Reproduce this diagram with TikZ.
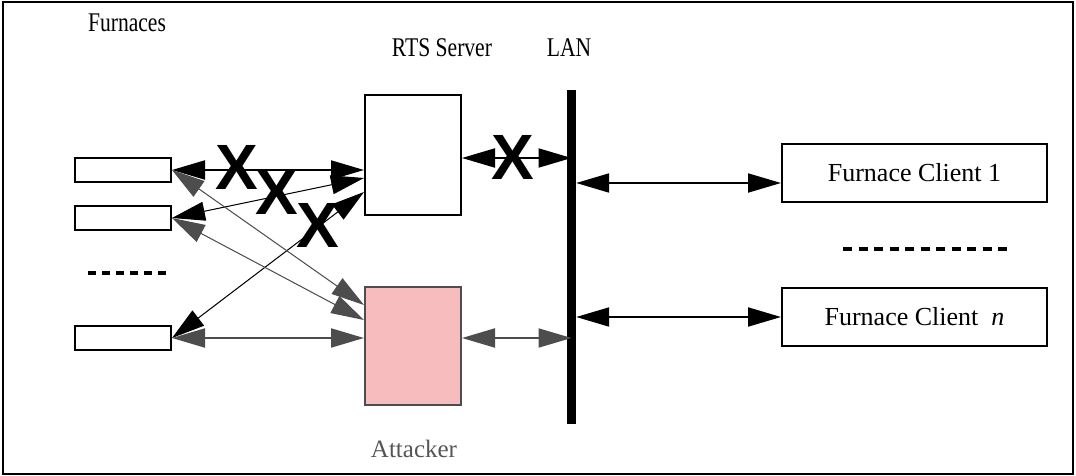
\documentclass[tikz,border=0pt]{standalone}
\usepackage{fontspec}
\setmainfont{Liberation Serif}
\newfontfamily\xfont{Liberation Sans}
\usetikzlibrary{arrows.meta}
\definecolor{dg}{RGB}{77,77,77}
\definecolor{txtgray}{RGB}{85,85,85}
\definecolor{pinkfill}{RGB}{247,188,190}
\begin{document}
\begin{tikzpicture}[x=1pt,y=-1pt,
  box/.style={draw, line width=2pt, inner sep=0pt, fill=white},
  lbl/.style={inner sep=0pt, anchor=base, font=\fontsize{25}{30}\selectfont},
  toplbl/.style={inner sep=0pt, anchor=base, font=\fontsize{27}{30}\selectfont},
  xmark/.style={inner sep=0pt, font=\xfont\bfseries\fontsize{64}{64}\selectfont},
  arr/.style={{Triangle[length=33pt,width=19pt]}-{Triangle[length=33pt,width=19pt]}},
  barr/.style={arr, draw=black, fill=black, line width=2pt},
  bthin/.style={arr, draw=black, fill=black, line width=1pt},
  garr/.style={arr, draw=dg, fill=dg, line width=2pt},
  gthin/.style={arr, draw=dg, fill=dg, line width=1pt},
  dots/.style={line width=4.5pt}]
\useasboundingbox (0,0) rectangle (1076,476);
\draw[line width=2pt] (3,2) rectangle (1073,474);

% labels
\node[toplbl] (lf) at (127,32) {\scalebox{0.8}[1]{Furnaces}};
\node[toplbl] (lr) at (442,57) {\scalebox{0.8}[1]{RTS Server}};
\node[toplbl] (ll) at (569,57) {\scalebox{0.8}[1]{LAN}};
\node[lbl, text=txtgray] (la) at (414,457) {Attacker};

% furnaces
\node[box, minimum width=96pt, minimum height=24pt] (f1) at (123,170) {};
\node[box, minimum width=96pt, minimum height=24pt] (f2) at (123,218) {};
\node[box, minimum width=96pt, minimum height=24pt] (f4) at (123,338) {};
\draw[dots, dash pattern=on 8pt off 6pt] (88,273) -- (166,273);

% server, attacker, LAN
\node[box, minimum width=96pt, minimum height=120pt] (rts) at (413,155) {};
\node[box, draw=dg, fill=pinkfill, minimum width=96pt, minimum height=118pt] (att) at (413,346) {};
\node[fill=black, inner sep=0pt, minimum width=9pt, minimum height=334pt] (lan) at (571.5,257) {};

% clients
\node[box, minimum width=265pt, minimum height=58pt, font=\fontsize{26}{30}\selectfont] (c1) at (914.5,173) {Furnace Client 1};
\node[box, minimum width=265pt, minimum height=58pt, font=\fontsize{26}{30}\selectfont] (cn) at (914.5,317) {Furnace Client\ \ \textit{n}};
\draw[dots, dash pattern=on 9pt off 6.5pt] (843,249) -- (1007,249);

% furnace <-> server (black)
\draw[barr] (f1.east) -- (f1.east -| rts.west);
\draw[bthin] (f2.east) -- ([yshift=-23pt]rts.west);
\draw[bthin] (f4.east) -- ([yshift=-37pt]rts.west);

% furnace <-> attacker (gray)
\draw[gthin] (f1.east) -- ([yshift=41pt]att.west);
\draw[gthin] (f2.east) -- ([yshift=26pt]att.west);
\draw[garr] (f4.east) -- (f4.east -| att.west);

% server / attacker <-> LAN
\coordinate (r8) at ([yshift=-3pt]rts.east);
\draw[barr] (r8) -- (r8 -| lan.center);
\coordinate (a7) at ([yshift=8pt]att.east);
\draw[garr] (a7) -- (a7 -| lan.center);

% LAN <-> clients
\coordinate (c1w) at ([yshift=-10pt]c1.west);
\draw[barr] (c1w -| lan.east) -- (c1w);
\draw[barr] (cn.west -| lan.east) -- (cn.west);

% X marks
\node[xmark] (x1) at (237,167) {X};
\node[xmark] (x2) at (277,192) {X};
\node[xmark] (x3) at (318,225) {X};
\node[xmark] (x4) at (513,157) {X};
\end{tikzpicture}
\end{document}
